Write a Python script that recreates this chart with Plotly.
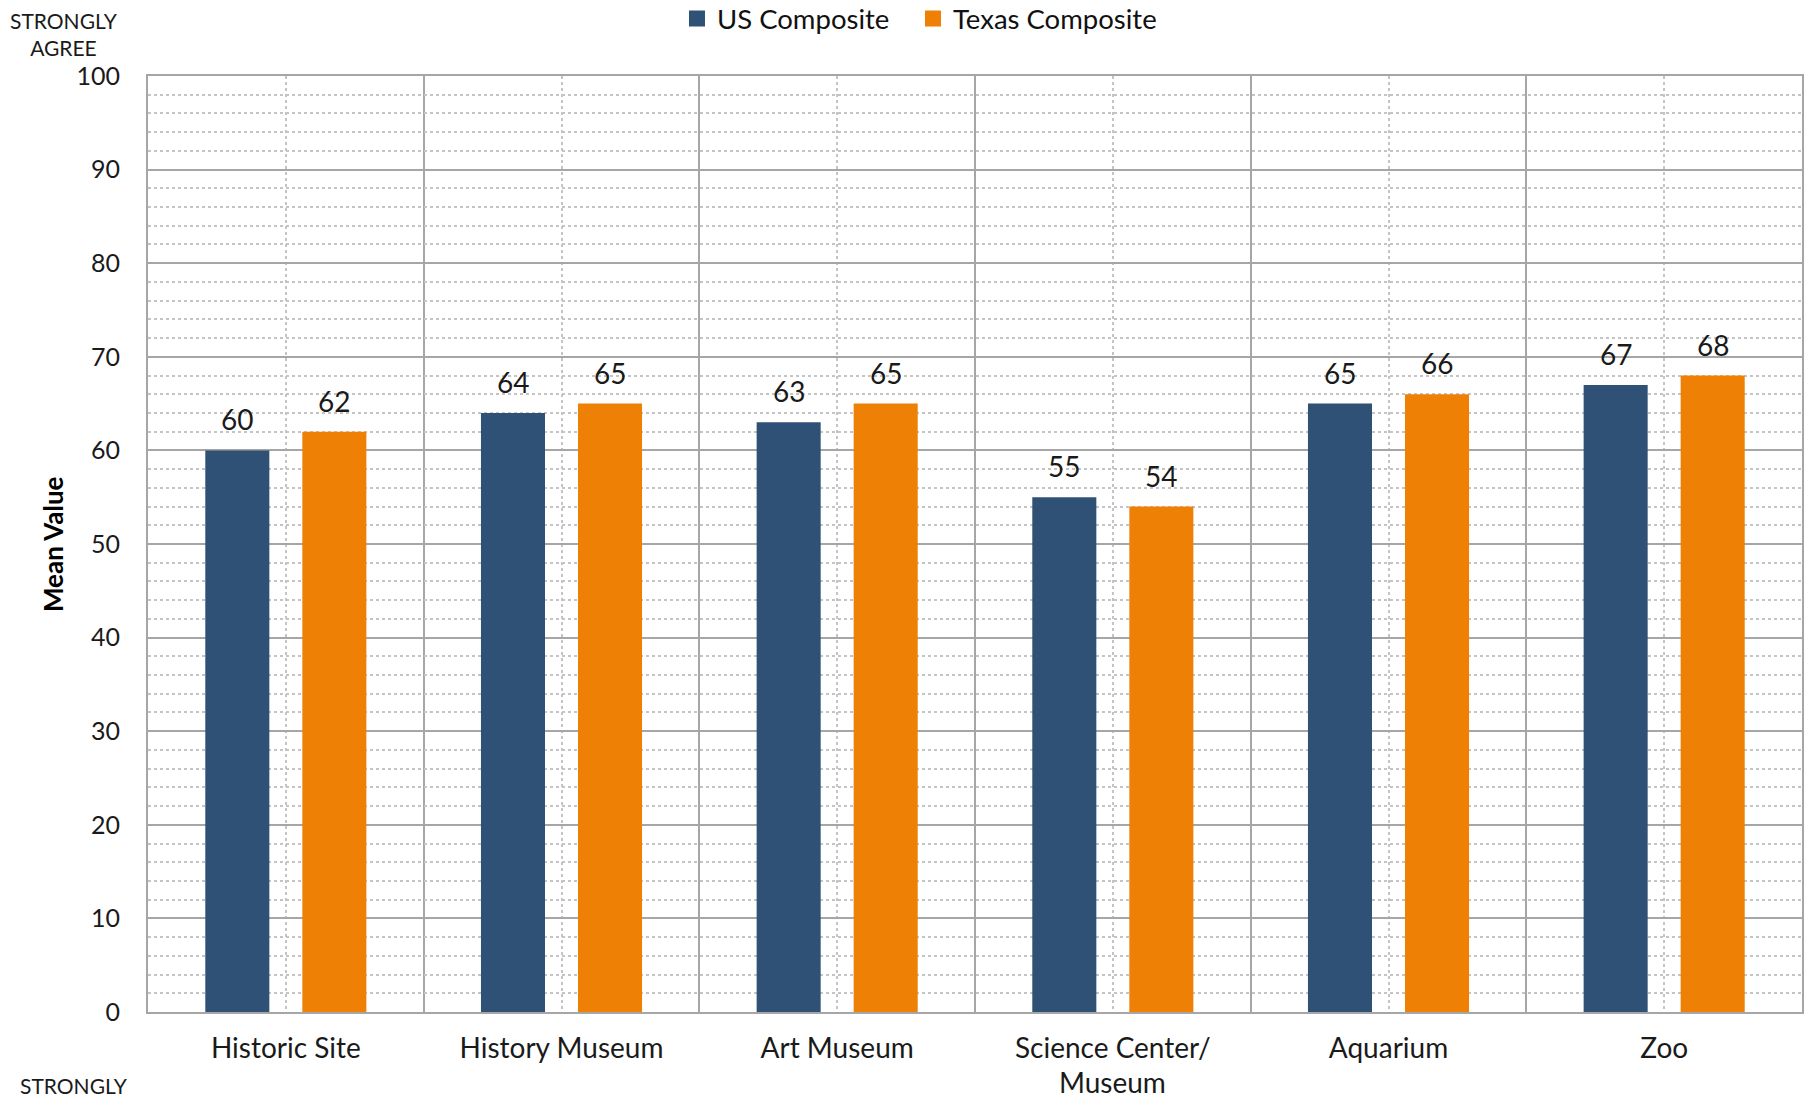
import plotly.graph_objects as go

# Mean values by venue type
categories = ["Historic Site", "History Museum", "Art Museum",
              "Science Center/<br>Museum", "Aquarium", "Zoo"]
us_composite = [60, 64, 63, 55, 65, 67]
texas_composite = [62, 65, 65, 54, 66, 68]
y_ticks = list(range(0, 101, 10))

US_COLOR = "#2F5175"
TX_COLOR = "#EE8005"
GRID_MAJOR = "#A6A6A6"
GRID_MINOR = "#C4C4C4"
FONT = "Lato"
CAT_SIZE = 28

x_pos = list(range(len(categories)))
# first line of each category goes on the axis; any second line is set
# just below it with tighter leading
first_lines = [c.split("<br>")[0] for c in categories]
second_lines = [c.split("<br>")[1] if "<br>" in c else "" for c in categories]

fig = go.Figure()
fig.add_trace(go.Bar(name="US Composite", x=x_pos, y=us_composite, showlegend=False,
                     marker=dict(color=US_COLOR, line=dict(width=0))))
fig.add_trace(go.Bar(name="Texas Composite", x=x_pos, y=texas_composite, showlegend=False,
                     marker=dict(color=TX_COLOR, line=dict(width=0))))

# legend entries with larger square swatches, one legend box each
for name, color, lg in (("US Composite", US_COLOR, "legend"),
                        ("Texas Composite", TX_COLOR, "legend2")):
    fig.add_trace(go.Scatter(name=name, x=[None], y=[None], mode="markers",
                             marker=dict(symbol="square", size=16, color=color),
                             hoverinfo="skip", legend=lg))

# value labels above each bar
annotations = []
for series, shift in ((us_composite, -48.5), (texas_composite, 48.5)):
    for xi, v in zip(x_pos, series):
        annotations.append(dict(x=xi, y=v, xref="x", yref="y", text=str(v),
                                showarrow=False, xshift=shift, yshift=12,
                                yanchor="bottom", xanchor="center",
                                font=dict(family=FONT, size=28, color="#1A1A1A")))

for xi, line in zip(x_pos, second_lines):
    if line:
        annotations.append(dict(x=xi, y=0, xref="x", yref="paper", text=line,
                                showarrow=False, yshift=-52, borderpad=0,
                                yanchor="top", xanchor="center",
                                font=dict(family=FONT, size=CAT_SIZE, color="#1A1A1A")))

# scale anchors and axis title
annotations.append(dict(x=-0.0508, y=1.045, xref="paper", yref="paper",
                        text="STRONGLY<br>AGREE", showarrow=False,
                        xanchor="center", yanchor="middle", align="center",
                        font=dict(family=FONT, size=21, color="#1A1A1A")))
annotations.append(dict(x=-0.0447, y=-0.064, xref="paper", yref="paper",
                        text="STRONGLY", showarrow=False, borderpad=0,
                        xanchor="center", yanchor="top", align="center",
                        font=dict(family=FONT, size=21, color="#1A1A1A")))
annotations.append(dict(x=-0.0574, y=0.5, xref="paper", yref="paper",
                        text="<b>Mean Value</b>", showarrow=False, textangle=-90,
                        xanchor="center", yanchor="middle",
                        font=dict(family=FONT, size=26, color="#000000")))

legend_common = dict(orientation="h", xref="container", yref="container",
                     xanchor="left", y=0.983, yanchor="middle",
                     font=dict(family=FONT, size=27.5, color="#111111"))

fig.update_layout(
    width=1814, height=1099,
    margin=dict(l=148, r=12, t=76, b=87, autoexpand=False),
    paper_bgcolor="white", plot_bgcolor="white",
    barmode="group", bargap=0.296, bargroupgap=0.34,
    font=dict(family=FONT, color="#1A1A1A"),
    legend=dict(x=0.3732, **legend_common),
    legend2=dict(x=0.5033, **legend_common),
    annotations=annotations,
    showlegend=True,
)

fig.update_xaxes(
    type="linear", range=[-0.5, len(categories) - 0.5],
    tickmode="array", tickvals=x_pos, ticktext=first_lines,
    tickfont=dict(family=FONT, size=CAT_SIZE, color="#1A1A1A"),
    ticks="", ticklabelstandoff=10, automargin=False,
    showgrid=True, gridcolor=GRID_MINOR, griddash="dot", gridwidth=1.5,
    minor=dict(tickmode="linear", tick0=0.5, dtick=1, showgrid=True,
               gridcolor=GRID_MAJOR, griddash="solid", gridwidth=1.5, ticks=""),
    showline=True, linecolor=GRID_MAJOR, linewidth=2, mirror=True,
    zeroline=False, fixedrange=True,
)

fig.update_yaxes(
    range=[0, 100], tickmode="array", tickvals=y_ticks,
    tickfont=dict(family=FONT, size=25, color="#1A1A1A"),
    ticks="", ticklabelstandoff=21, automargin=False,
    showgrid=True, gridcolor=GRID_MAJOR, gridwidth=1.5,
    minor=dict(dtick=2, showgrid=True, gridcolor=GRID_MINOR,
               griddash="dot", gridwidth=1.5, ticks=""),
    showline=True, linecolor=GRID_MAJOR, linewidth=2, mirror=True,
    zeroline=False, fixedrange=True,
)

fig.write_html("out.html")
